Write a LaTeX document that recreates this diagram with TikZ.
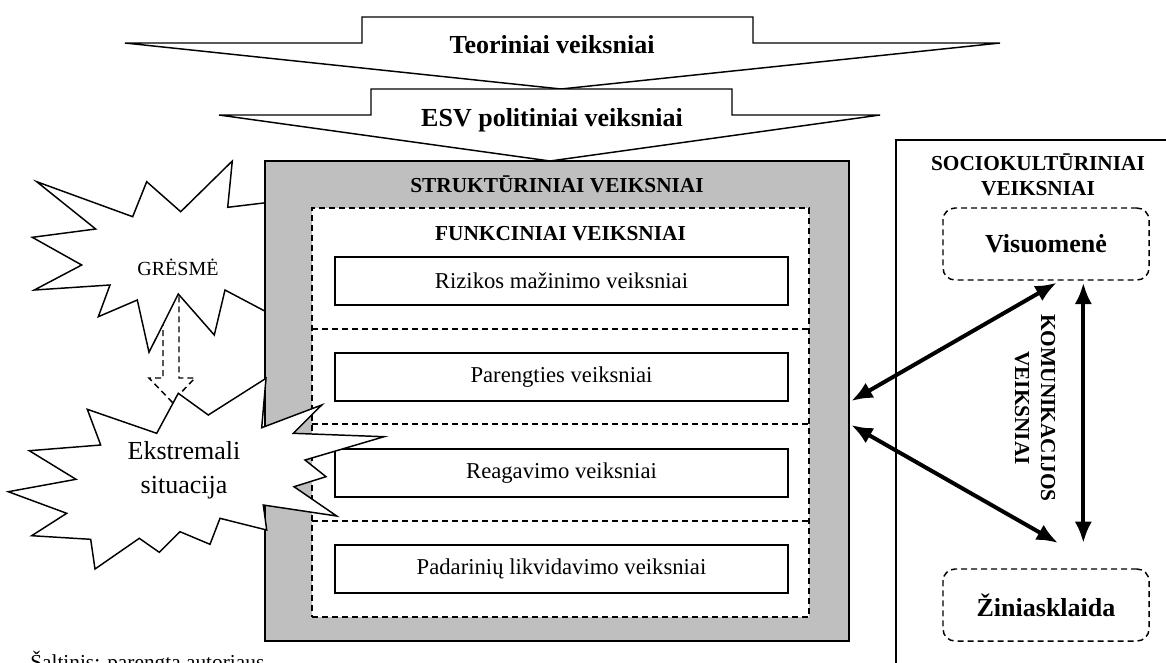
\documentclass[tikz,border=0pt]{standalone}
\usepackage{fontspec}
\setmainfont{Liberation Serif}
\usetikzlibrary{shapes,arrows,arrows.meta}

\begin{document}
\begin{tikzpicture}[x=0.75pt, y=-0.75pt,
    block_gray/.style ={rectangle, draw=black, line width=1.4pt, fill=black!25,
      minimum width=438pt, minimum height=360pt},
    block_dashed/.style ={rectangle, draw=black, dash pattern=on 4.5pt off 3pt, line width=1.1pt,
      fill=white, minimum width=372.75pt, minimum height=306.75pt},
    block_factor/.style ={rectangle, draw=black, line width=1.3pt, fill=white,
      minimum width=339.75pt, minimum height=36pt, font=\fontsize{17}{20}\selectfont},
    block_round/.style ={rectangle, rounded corners=9pt, draw=black, dash pattern=on 4.5pt off 3pt,
      line width=1.1pt, minimum width=154.5pt, minimum height=54pt,
      font=\fontsize{19.5}{23}\selectfont\bfseries},
    block_noborder/.style ={draw=none, inner sep=0pt, align=center,
      font=\fontsize{16}{18.75}\selectfont\bfseries},
    block_arrow/.style ={draw=black, line width=1.1pt, fill=white, line join=miter},
    block_burst/.style ={draw=black, line width=1.1pt, fill=white, line join=miter},
    line/.style ={draw, line width=3pt, {Latex[length=16pt,width=13pt]}-{Latex[length=16pt,width=13pt]}, shorten >=0pt}]
    \useasboundingbox (0,0) rectangle (1166,662);
    % threat and the hollow dashed arrow under it
    \draw[dash pattern=on 4.5pt off 3pt, line width=1.1pt] (163,290) -- (163,378) -- (149,378)
      -- (172,402) -- (195,378) -- (179,378) -- (179,290);
    \draw[block_burst] plot coordinates {(36.7,181.7) (132.7,216.7) (146.7,181.7) (180.7,211.7)
      (232.3,161) (227.7,207.3) (266,202.7) (300,260) (266,311.7) (225,290) (214.3,335)
      (178.3,294) (149,352.3) (137.3,300) (98.3,316.7) (110,285) (34.3,290) (81.7,265)
      (32.3,237.3) (95.7,229)} -- cycle;
    \node[block_noborder, font=\fontsize{15}{18}\selectfont] (gresme) at (178,267) {GRĖSMĖ};
    % top arrows - theory and policy
    \draw[block_arrow] (362,17) -- (753,17) -- (753,43) -- (1000,43) -- (561,89)
      -- (125,43) -- (362,43) -- cycle;
    \node[block_noborder, font=\fontsize{19.5}{23}\selectfont\bfseries, anchor=base]
      (teoriniai) at (552,53) {Teoriniai veiksniai};
    \draw[block_arrow] (371,89) -- (732,89) -- (732,115) -- (880,115) -- (550,161)
      -- (219,115) -- (371,115) -- cycle;
    \node[block_noborder, font=\fontsize{19.5}{23}\selectfont\bfseries, anchor=base]
      (esv) at (552,126) {ESV politiniai veiksniai};
    % structural and functional blocks
    \node[block_gray] (struct) at (557,401) {};
    \node[block_noborder, anchor=base] (structtitle) at (557,192) {STRUKTŪRINIAI VEIKSNIAI};
    \node[block_dashed] (funk) at (560.5,412.5) {};
    \node[block_noborder, anchor=base] (funktitle) at (560.5,240) {FUNKCINIAI VEIKSNIAI};
    \foreach \y in {329,424,521}
      \draw[dash pattern=on 4.5pt off 3pt, line width=1.1pt] (312,\y) -- (809,\y);
    \node[block_factor] (rizika) at (561.5,281) {Rizikos mažinimo veiksniai};
    \node[block_factor] (parengtis) at (561.5,377) {Parengties veiksniai};
    \node[block_factor] (reagavimas) at (561.5,473) {Reagavimo veiksniai};
    \node[block_factor] (padariniai) at (561.5,569) {Padarinių likvidavimo veiksniai};
    % emergency
    \draw[block_burst] plot coordinates {(178.3,393.3) (208.3,415) (266,378.3) (261.7,427.7)
      (321.7,405) (293.3,433.3) (384,436.7) (305,460) (326,476.7) (294,486.7) (336.7,516)
      (263.3,505) (266.7,530) (220,518.3) (210,544.3) (180,531.7) (159.3,552.3)
      (139.3,538.3) (95,569) (90.7,539.3) (31.7,535.7) (66.7,513.3) (8.3,491.7) (76,479.3)
      (29.3,450.7) (100.7,445) (87.3,409.3) (156.7,433.3)} -- cycle;
    \node[block_noborder, font=\fontsize{19.5}{25.5}\selectfont] (ekstremali) at (184,470)
      {Ekstremali\\situacija};
    % sociocultural side
    \draw[line width=1.3pt] (896,680) -- (896,140) -- (1190,140);
    \node[block_noborder] (socio) at (1038,175) {SOCIOKULTŪRINIAI\\VEIKSNIAI};
    \node[block_round] (visuomene) at (1046,244) {Visuomenė};
    \node[block_round] (ziniasklaida) at (1046,605) {Žiniasklaida};
    \node[block_noborder, rotate=-90, font=\fontsize{16}{19.5}\selectfont\bfseries]
      (komunikacija) at (1035,408) {KOMUNIKACIJOS\\VEIKSNIAI};
    \node[block_noborder, font=\fontsize{16}{19}\selectfont, anchor=base west]
      (saltinis) at (30,669) {Šaltinis: parengta autoriaus};
    % connecting nodes with paths
    \begin{scope}[every path/.style=line]
      \path ([xshift=8pt,yshift=-1.5pt]visuomene.south) -- ([xshift=1pt]struct.east);
      \path ([xshift=1pt,yshift=-18pt]struct.east) -- ([xshift=9pt,yshift=19pt]ziniasklaida.north);
      \path ([xshift=28pt,yshift=-1.5pt]visuomene.south) -- ([xshift=28pt,yshift=19pt]ziniasklaida.north);
    \end{scope}
\end{tikzpicture}
\end{document}
